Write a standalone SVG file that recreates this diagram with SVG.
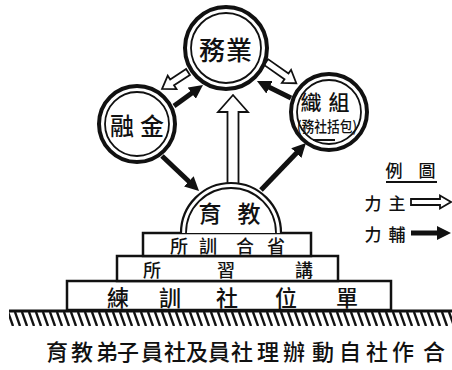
<svg xmlns="http://www.w3.org/2000/svg" width="452" height="370" viewBox="0 0 452 370">
<style>
text{font-family:"Noto Sans CJK TC","Noto Sans CJK SC",sans-serif;font-weight:500;fill:#111;text-anchor:middle;dominant-baseline:central}
.ring-o{fill:#fff;stroke:#111;stroke-width:4}
.ring-i{fill:none;stroke:#111;stroke-width:1.8}
.slab{fill:#fff;stroke:#111;stroke-width:2.5}
.hollow{fill:#fff;stroke:#111;stroke-width:1.8;stroke-linejoin:miter}
.solid{fill:none;stroke:#111;stroke-width:5;marker-end:url(#head)}
</style>
<defs>
<marker id="head" markerUnits="userSpaceOnUse" markerWidth="14" markerHeight="14" refX="2" refY="7" orient="auto">
<path d="M0,0 L14,7 L0,14 Z" fill="#111"/>
</marker>
<pattern id="hatch" patternUnits="userSpaceOnUse" x="0" y="312" width="7" height="14">
<line x1="1" y1="0" x2="6" y2="14" stroke="#111" stroke-width="2.4"/>
</pattern>
</defs>
<rect width="452" height="370" fill="#fff"/>

<g id="connectors">
<path class="hollow" d="M0,-3.5 H19 V-8 L31,0 L19,8 V3.5 H0 Z" transform="translate(188,72) rotate(146.8)"/>
<line class="solid" x1="174" y1="106" x2="193.3" y2="92"/>
<path class="hollow" d="M0,-3.5 H25 V-8 L37,0 L25,8 V3.5 H0 Z" transform="translate(266,62) rotate(35)"/>
<line class="solid" x1="291" y1="98" x2="267.7" y2="86.4"/>
<path class="hollow" d="M0,-5.5 H73 V-15 L90,0 L73,15 V5.5 H0 Z" transform="translate(233,185) rotate(-90)"/>
<line class="solid" x1="162" y1="156" x2="190.3" y2="182.7"/>
<line class="solid" x1="261" y1="190" x2="297.7" y2="151.7"/>
</g>

<g id="node-yewu">
<circle class="ring-o" cx="226" cy="48" r="41"/>
<circle class="ring-i" cx="226" cy="48" r="35"/>
<text x="212 239" y="48" font-size="26">務業</text>
</g>
<g id="node-jinrong">
<circle class="ring-o" cx="137" cy="124" r="38"/>
<circle class="ring-i" cx="137" cy="124" r="32"/>
<text x="122 152" y="124" font-size="24">融金</text>
</g>
<g id="node-zuzhi">
<circle class="ring-o" cx="329" cy="112" r="38"/>
<circle class="ring-i" cx="329" cy="112" r="32"/>
<text x="311 339" y="101" font-size="21">織組</text>
<text x="327" y="125" font-size="15" textLength="60" lengthAdjust="spacingAndGlyphs">(務社括包)</text>
<line x1="313" y1="140" x2="335" y2="140" stroke="#111" stroke-width="2"/>
</g>

<g id="ground">
<rect x="9" y="312" width="443" height="14" fill="url(#hatch)"/>
<line x1="9" y1="311" x2="452" y2="311" stroke="#111" stroke-width="3"/>
</g>

<g id="slab3">
<rect class="slab" x="67" y="281" width="324" height="29"/>
<text x="118 170 227 286 347" y="296" font-size="22">練訓社位單</text>
</g>
<g id="slab2">
<rect class="slab" x="117" y="256" width="221" height="25"/>
<text x="152 226 304" y="269" font-size="18">所習講</text>
</g>
<g id="slab1">
<rect class="slab" x="143" y="233" width="168" height="23"/>
<text x="179 208 245 276" y="245" font-size="18">所訓合省</text>
</g>
<g id="node-jiaoyu">
<path d="M181,233 A50,50 0 0 1 281,233" fill="#fff" stroke="#111" stroke-width="2.2"/>
<path d="M186,233 A45,45 0 0 1 276,233" fill="none" stroke="#111" stroke-width="1.8"/>
<text x="210 249" y="212" font-size="23">育教</text>
</g>

<g id="legend">
<text x="394 427" y="169" font-size="17">例圖</text>
<line x1="386" y1="182" x2="437" y2="182" stroke="#111" stroke-width="2"/>
<text x="373 397" y="202" font-size="17">力主</text>
<path class="hollow" d="M0,-3 H29 V-6.5 L40,0 L29,6.5 V3 H0 Z" transform="translate(411,202)"/>
<text x="373 397" y="233" font-size="17">力輔</text>
<line class="solid" x1="411" y1="233" x2="439" y2="233"/>
</g>

<g id="caption">
<text x="57 82 107 128 152 175 197 219 242 268 294 323 350 377 403 434" y="350" font-size="22">育教弟子員社及員社理辦動自社作合</text>
</g>
</svg>
